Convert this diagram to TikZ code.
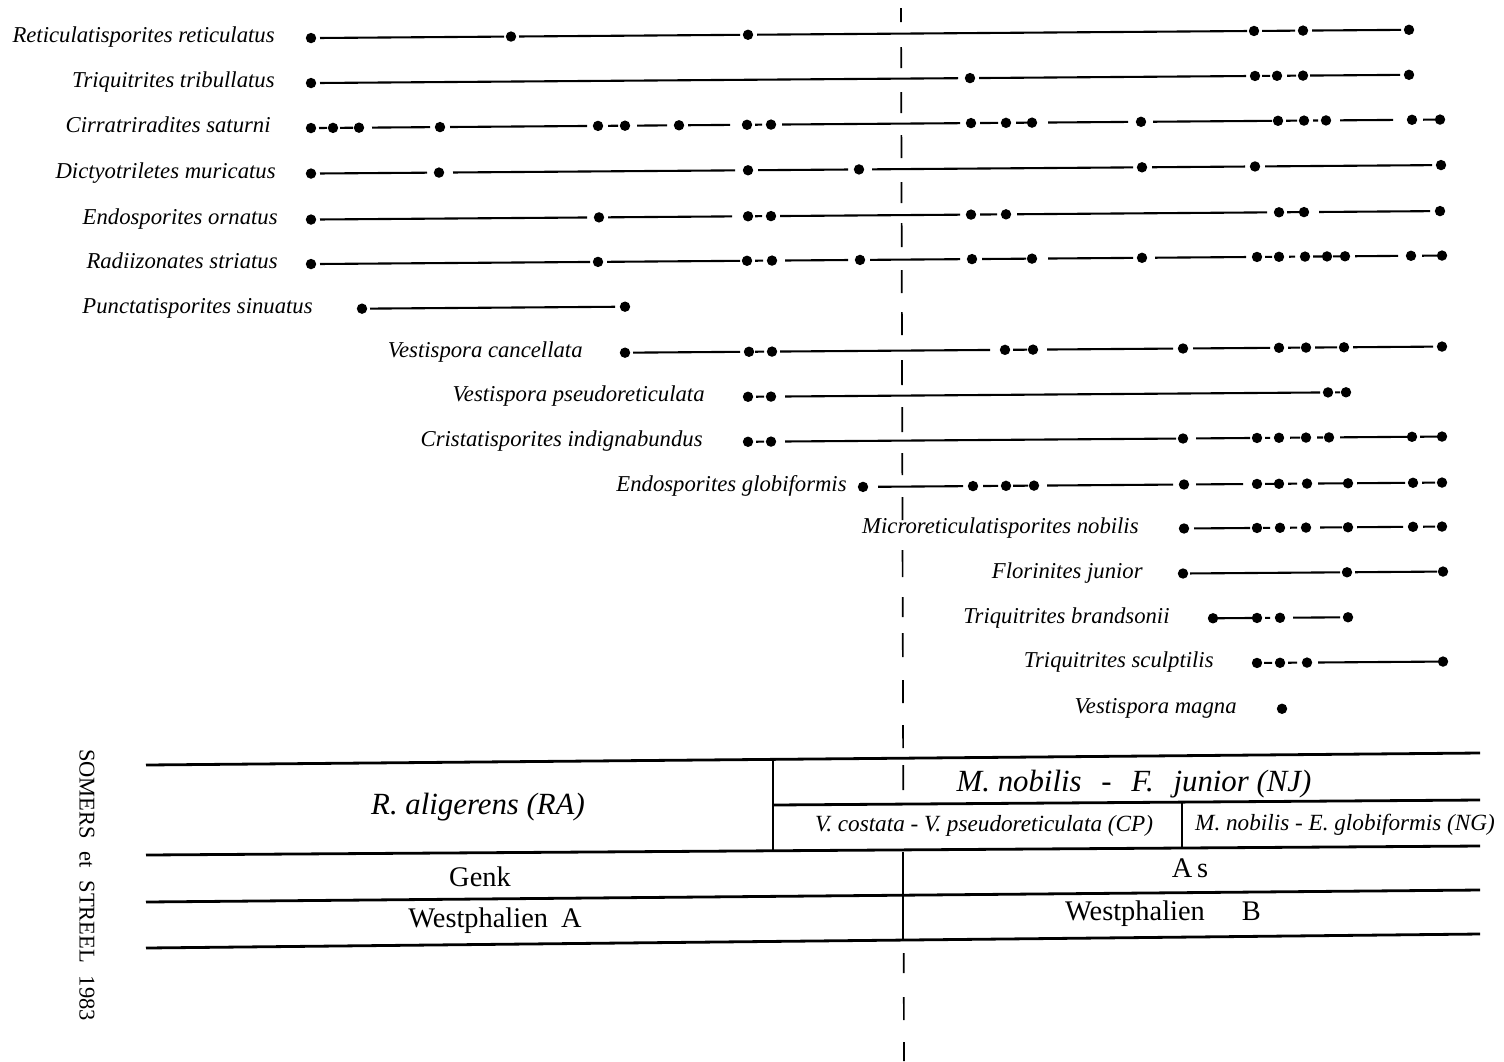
\documentclass[tikz,border=0pt]{standalone}
\usepackage{fontspec}
\setmainfont{Liberation Serif}
\newcommand\rslope{0.0075}
\newcommand\rowline[3]{%
  \foreach \sa/\sb in {#3}{\draw[seg] (\sa,{#1-\rslope*(\sa-850)}) -- (\sb,{#1-\rslope*(\sb-850)});}
  \foreach \dx in {#2}{\fill (\dx,{#1-\rslope*(\dx-850)}) circle (5.2);}
}
\newcommand\splab[4]{\node[lab] (#1) at (#2,{#3-\rslope*(#2-850)+4.5}) {#4};}
\begin{document}
\begin{tikzpicture}[x=0.5pt,y=-0.5pt,
  seg/.style={line width=1.05pt},
  lab/.style={font=\fontsize{11.35}{13}\selectfont\itshape, inner sep=0pt, anchor=base east},
  tline/.style={line width=1.4pt},
  tdiv/.style={line width=0.85pt},
  vdash/.style={line width=0.85pt},
  tabbig/.style={font=\fontsize{15.4}{17}\selectfont\itshape, inner sep=0pt},
  tabsmall/.style={font=\fontsize{11.6}{13}\selectfont\itshape, inner sep=0pt},
  tabup/.style={font=\fontsize{14.2}{16}\selectfont, inner sep=0pt},
]
\path[use as bounding box, fill=white] (0,0) rectangle (1504,1061);

% range lines
\rowline{34}{311,511,748,1254,1303,1409}{320/504,519/740,757/1247,1262/1295,1312/1401}
\rowline{79}{311,970,1255,1277,1303,1409}{320/958,979/1246,1262/1270,1287/1296,1310/1400}
\rowline{124}{311,333,359,440,598,625,679,747,771,971,1006,1032,1141,1278,1304,1326,1412,1440}{319/327,340/353,372/430,450/587,608/618,637/667,688/730,755/762,782/960,980/998,1016/1027,1048/1128,1153/1272,1286/1297,1313/1318,1340/1393,1423/1435}
\rowline{169.5}{311,439,748,859,1142,1255,1441}{320/427,453/735,758/848,872/1133,1152/1245,1265/1432}
\rowline{215.5}{311,599,748,771,971,1006,1279,1304,1440}{320/587,608/732,755/762,780/960,980/997,1017/1267,1287/1300,1319/1430}
\rowline{260}{311,598,747,772,860,972,1032,1142,1257,1279,1305,1327,1345,1411,1442}{320/590,607/740,755/763,785/848,870/960,982/1026,1048/1133,1155/1246,1265/1272,1289/1295,1313/1322,1333/1340,1355/1398,1422/1437}
\rowline{305}{362,625}{370/615}
\rowline{351}{625,749,772,1005,1033,1183,1279,1306,1344,1442}{633/740,755/764,780/990,1013/1027,1047/1173,1193/1270,1288/1300,1315/1337,1353/1433}
\rowline{396}{748,771,1328,1346}{756/764,785/1320,1335/1340}
\rowline{441}{748,771,1183,1257,1279,1306,1329,1412,1442}{756/764,785/1176,1196/1250,1265/1270,1290/1300,1317/1323,1340/1408,1420/1438}
\rowline{487}{863,973,1006,1034,1184,1257,1279,1307,1348,1413,1442}{878/963,983/998,1013/1028,1047/1173,1196/1243,1265/1275,1288/1297,1318/1345,1357/1405,1422/1435}
\rowline{531}{1184,1257,1280,1306,1348,1413,1442}{1194/1250,1263/1270,1290/1297,1320/1342,1357/1403,1423/1435}
\rowline{576}{1183,1347,1443}{1190/1340,1355/1437}
\rowline{621}{1213,1257,1280,1348}{1218/1253,1265/1270,1293/1340}
\rowline{666}{1257,1280,1307,1443}{1264/1272,1288/1297,1318/1438}
\fill (1282,{712-\rslope*(1282-850)}) circle (5.2);

% species labels
\splab{l1}{275}{34}{Reticulatisporites reticulatus}
\splab{l2}{275}{79}{Triquitrites tribullatus}
\splab{l3}{271}{124}{Cirratriradites saturni}
\splab{l4}{276}{169.5}{Dictyotriletes muricatus}
\splab{l5}{278}{215.5}{Endosporites ornatus}
\splab{l6}{278}{260}{Radiizonates striatus}
\splab{l7}{313}{305}{Punctatisporites sinuatus}
\splab{l8}{583}{351}{Vestispora cancellata}
\splab{l9}{705}{396}{Vestispora pseudoreticulata}
\splab{l10}{703}{441}{Cristatisporites indignabundus}
\splab{l11}{847}{487}{Endosporites globiformis}
\splab{l12}{1139}{531}{Microreticulatisporites nobilis}
\splab{l13}{1143}{576}{Florinites junior}
\splab{l14}{1170}{621}{Triquitrites brandsonii}
\splab{l15}{1214}{666}{Triquitrites sculptilis}
\splab{l16}{1237}{712}{Vestispora magna}

% dashed boundary
\foreach \ya/\yb in {8/22,47/68,92/113,135/158,182/203,223/247,270/293,312/335,360/385,407/432,453/475,497/520,550/577,597/617,633/657,680/703,725/748,765/790,953/973,997/1020,1042/1061}{
  \draw[vdash] ({901+3*\ya/1061},\ya) -- ({901+3*\yb/1061},\yb);
}

% zone table
\draw[tline] (146,765) -- (1480,753);
\draw[tline] (773,805) -- (1480,800);
\draw[tline] (146,855) -- (1480,846);
\draw[tline] (146,902) -- (1480,890);
\draw[tline] (146,948) -- (1480,934);
\draw[tdiv] (773,760) -- (773,851);
\draw[tdiv] (1182,802) -- (1182,848);
\draw[tdiv] (903,852) -- (903,941);

\node[tabbig] (ra) at (478,807) {R. aligerens (RA)};
\node[tabbig] (nj) at (1134,784) {M. nobilis\hspace{6pt} -\hspace{6pt} F.\hspace{6pt} junior (NJ)};
\node[tabsmall] (cp) at (984,826) {V. costata - V. pseudoreticulata (CP)};
\node[tabsmall] (ng) at (1345,825) {M. nobilis - E. globiformis (NG)};
\node[tabup] (genk) at (480,877) {Genk};
\node[tabup] (as) at (1190,868) {A\,s};
\node[tabup] (wa) at (495,921) {Westphalien\hspace{3pt} A};
\node[tabup] (wb) at (1163,914) {Westphalien\hspace{15pt} B};

\node[rotate=-90, font=\fontsize{11.25}{13}\selectfont, inner sep=0pt] (src) at (87,885) {SOMERS\hspace{3.5pt} et\hspace{3.5pt} STREEL\hspace{3.5pt} 1983};
\end{tikzpicture}
\end{document}
